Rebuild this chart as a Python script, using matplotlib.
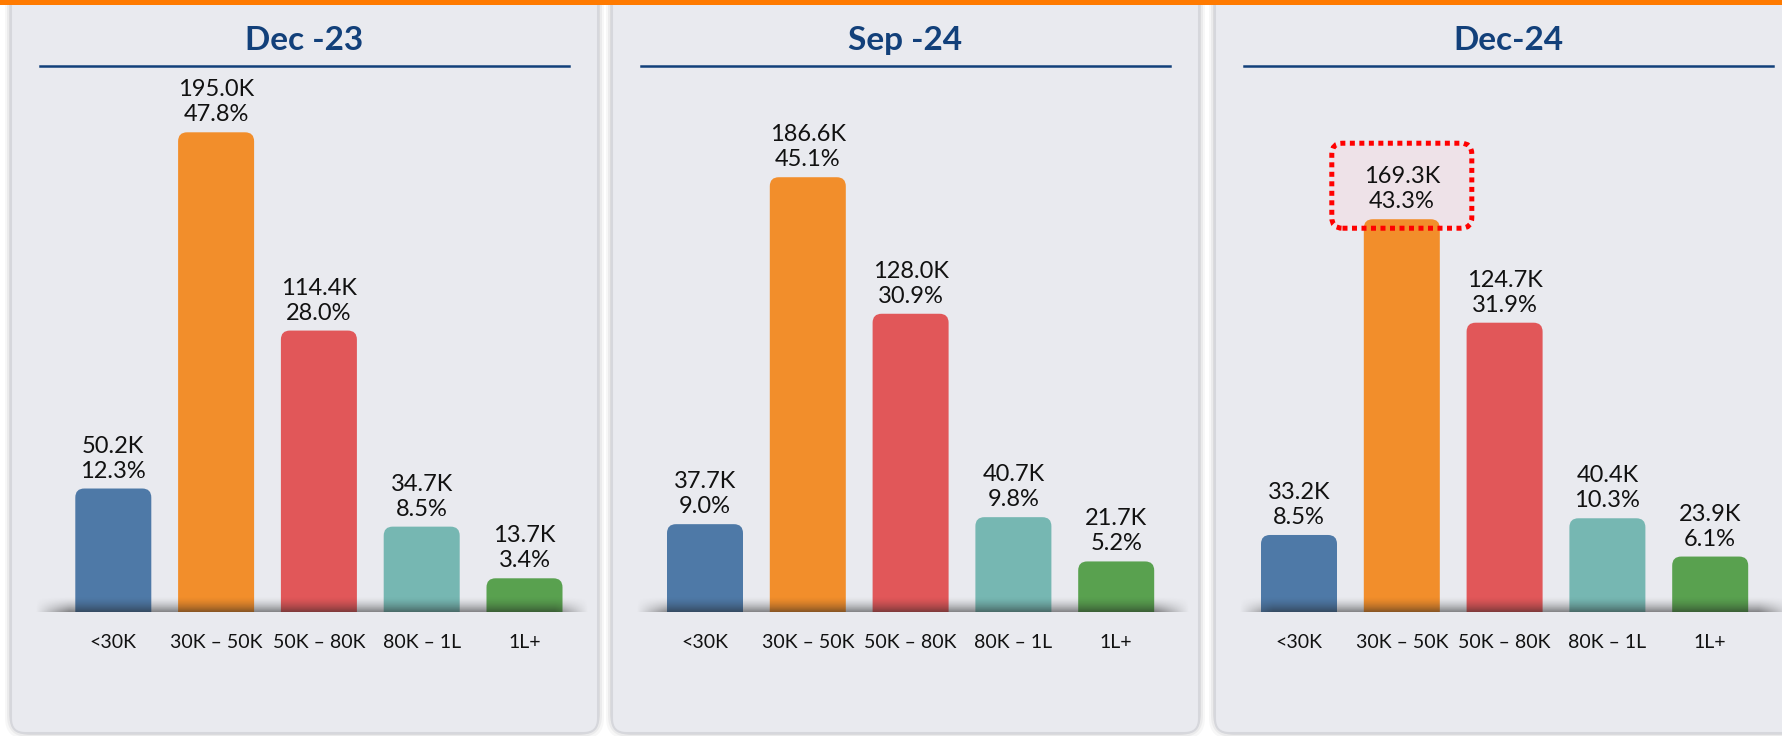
import numpy as np
import matplotlib
matplotlib.use("Agg")
from matplotlib import pyplot as plt
from matplotlib.patches import FancyBboxPatch, Rectangle
from matplotlib.lines import Line2D

# data
periods = ["Dec -23", "Sep -24", "Dec-24"]
categories = ["<30K", "30K – 50K", "50K – 80K", "80K – 1L", "1L+"]
dec23_k = [50.2, 195.0, 114.4, 34.7, 13.7]
dec23_pct = [12.3, 47.8, 28.0, 8.5, 3.4]
sep24_k = [37.7, 186.6, 128.0, 40.7, 21.7]
sep24_pct = [9.0, 45.1, 30.9, 9.8, 5.2]
dec24_k = [33.2, 169.3, 124.7, 40.4, 23.9]
dec24_pct = [8.5, 43.3, 31.9, 10.3, 6.1]
colors = ["#4E79A7", "#F28E2B", "#E15759", "#76B7B2", "#59A14F"]
highlight = (2, 1)   # panel, bar

values = [dec23_k, sep24_k, dec24_k]
pcts = [dec23_pct, sep24_pct, dec24_pct]

plt.rcParams['font.family'] = ['Lato', 'DejaVu Sans']

W, H = 1782, 736
fig = plt.figure(figsize=(W / 100, H / 100), dpi=100)
fig.patch.set_facecolor("white")

def fx(x):
    return x / W

def fy(y):
    return 1 - y / H

PT = 0.72  # points per pixel at dpi 100

# layout in pixels
panel_left = [11, 612, 1215]
panel_w = 587
first_off = [102.3, 93.0, 84.0]
step = 102.8
base_y = 612
ax_h = 540
scale = [2.46, 2.33, 2.32]     # px per K
bar_w = 76 / step
title_col = "#12407A"
bg = "#E9EAEF"

for p in range(3):
    L = panel_left[p]
    # panel shadow + panel
    for k, a in [(6, 0.08), (4, 0.12), (2, 0.18)]:
        sh = FancyBboxPatch((fx(L - k), fy(733 + k)), fx(panel_w + 2 * k), fy(-20) - fy(733 + k),
                            boxstyle="round,pad=0,rounding_size=0.012", transform=fig.transFigure,
                            fc="#9A9BA3", ec="none", alpha=a, zorder=0.1, mutation_aspect=W / H)
        fig.add_artist(sh)
    pan = FancyBboxPatch((fx(L), fy(733)), fx(panel_w), fy(-20) - fy(733),
                         boxstyle="round,pad=0,rounding_size=0.008", transform=fig.transFigure,
                         fc=bg, ec="#D6D7DC", lw=1.5, zorder=0.2, mutation_aspect=W / H)
    fig.add_artist(pan)

    # title and underline
    fig.text(fx(L + 293.5), fy(50), periods[p], ha="center", va="baseline",
             fontsize=24, fontweight="bold", color=title_col, zorder=3)
    fig.add_artist(Line2D([fx(L + 29), fx(L + 558)], [fy(66), fy(66)], color=title_col,
                          lw=1.8, transform=fig.transFigure, zorder=3))

    s = scale[p]
    ax = fig.add_axes([fx(L), fy(base_y), fx(panel_w), ax_h / H])
    ax.set_zorder(2)
    ax.patch.set_alpha(0)
    ax.axis("off")
    x0 = -first_off[p] / step
    x1 = (panel_w - first_off[p]) / step
    ytop = ax_h / s

    rx = 9 / step
    ry = 9 / s
    for i, v in enumerate(values[p]):
        bar = FancyBboxPatch((i - bar_w / 2, -ry), bar_w, v + ry,
                             boxstyle=f"round,pad=0,rounding_size={rx}",
                             mutation_aspect=ry / rx, fc=colors[i], ec="none", zorder=2)
        ax.add_patch(bar)
        ax.annotate(f"{pcts[p][i]:.1f}%", xy=(i, v), xytext=(0, 11 * PT),
                    textcoords="offset points", ha="center", va="baseline",
                    fontsize=17, color="#111111", zorder=5)
        ax.annotate(f"{v:.1f}K", xy=(i, v), xytext=(0, 36 * PT),
                    textcoords="offset points", ha="center", va="baseline",
                    fontsize=17, color="#111111", zorder=5)
        ax.annotate(categories[i], xy=(i, 0), xytext=(0, -36 * PT), textcoords="offset points",
                    ha="center", va="baseline", fontsize=14, color="#111111", zorder=5)

    # shadow along the base line
    ny, nx = 24, 300
    vert = np.linspace(0, 1, ny)[::-1] ** 1.6
    hor = np.clip(np.minimum(np.linspace(0, 1, nx), np.linspace(1, 0, nx)) / 0.06, 0, 1)
    grad = np.zeros((ny, nx, 4))
    grad[..., :3] = 0.12
    grad[..., 3] = 0.5 * vert[:, None] * hor[None, :]
    ax.imshow(grad, extent=[(24 - first_off[p]) / step, (578 - first_off[p]) / step, 0, 16 / s],
              origin="lower", aspect="auto", interpolation="bilinear", zorder=3)

    if p == highlight[0]:
        j = highlight[1]
        cx = L + first_off[p] + j * step
        top = base_y - values[p][j] * s
        bx0, bx1 = cx - 70, cx + 70
        by0, by1 = top - 76, top + 9
        box_args = dict(boxstyle="round,pad=0,rounding_size=0.006", transform=fig.transFigure,
                        mutation_aspect=W / H, clip_on=False)
        fill = FancyBboxPatch((fx(bx0), fy(by1)), fx(bx1 - bx0), fy(by0) - fy(by1),
                              fc="#EEE2E8", ec="none", zorder=1, **box_args)
        edge = FancyBboxPatch((fx(bx0), fy(by1)), fx(bx1 - bx0), fy(by0) - fy(by1),
                              fc="none", ec="#FF0000", lw=3.6, ls=(0, (1, 0.9)), zorder=4, **box_args)
        ax.add_patch(fill)
        ax.add_patch(edge)

    ax.set_xlim(x0, x1)
    ax.set_ylim(0, ytop)

# orange strip at the top
fig.add_artist(Rectangle((0, fy(4.5)), 1, 4.5 / H, transform=fig.transFigure,
                         fc="#FF7A00", ec="none", zorder=4))

fig.savefig("out.png", dpi=100)
